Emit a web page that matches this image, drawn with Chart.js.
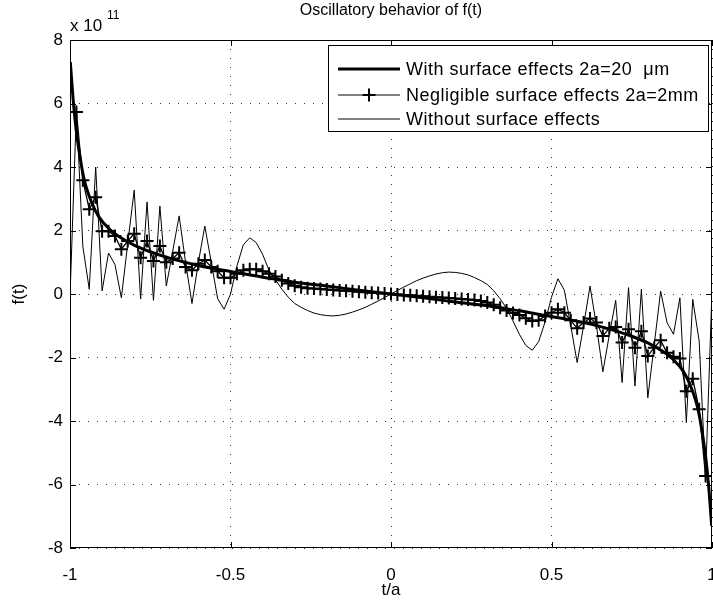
<!DOCTYPE html>
<html>
<head>
<meta charset="utf-8">
<script src="https://cdn.jsdelivr.net/npm/chart.js@4/dist/chart.umd.min.js"></script>
<style>
  html, body { margin: 0; padding: 0; background: #fff; }
  #wrap { width: 713px; height: 602px; }
</style>
</head>
<body>
<div id="wrap"><canvas id="c" width="713" height="602"></canvas></div>
<script>
// f(t) in units of 1e11, plotted against t/a
const xTicks = [-1, -0.5, 0, 0.5, 1];
const yTicks = [-8, -6, -4, -2, 0, 2, 4, 6, 8];

// With surface effects, 2a = 20 um (smooth curve)
const surfaceT = [-0.999, -0.99, -0.98, -0.97, -0.96, -0.95, -0.93, -0.91, -0.88, -0.85, -0.8, -0.75, -0.7, -0.65, -0.6, -0.55, -0.5, -0.45, -0.4, -0.35, -0.3, -0.2, -0.1, 0,
                  0.1, 0.2, 0.3, 0.35, 0.4, 0.45, 0.5, 0.55, 0.6, 0.65, 0.7, 0.75, 0.8, 0.85, 0.88, 0.91, 0.93, 0.95, 0.96, 0.97, 0.98, 0.99, 0.999];
const surfaceF = [7.3, 6.1, 5.1, 4.4, 3.8, 3.38, 2.82, 2.43, 2.07, 1.83, 1.54, 1.33, 1.16, 1.02, 0.9, 0.8, 0.71, 0.62, 0.53, 0.45, 0.37, 0.25, 0.12, 0,
                  -0.12, -0.25, -0.37, -0.45, -0.53, -0.62, -0.71, -0.8, -0.9, -1.02, -1.16, -1.33, -1.54, -1.83, -2.07, -2.43, -2.82, -3.38, -3.8, -4.4, -5.1, -6.1, -7.3];

// Sample points shared by the two discrete solutions
const gridT = [-0.98, -0.96, -0.94, -0.92, -0.9, -0.88, -0.86, -0.84, -0.82, -0.8, -0.78, -0.76, -0.74, -0.72, -0.7, -0.68, -0.66, -0.64, -0.62, -0.6,
               -0.58, -0.56, -0.54, -0.52, -0.5, -0.48, -0.46, -0.44, -0.42, -0.4, -0.38, -0.36, -0.34, -0.32, -0.3, -0.28, -0.26, -0.24, -0.22, -0.2,
               -0.18, -0.16, -0.14, -0.12, -0.1, -0.08, -0.06, -0.04, -0.02, 0,
               0.02, 0.04, 0.06, 0.08, 0.1, 0.12, 0.14, 0.16, 0.18, 0.2, 0.22, 0.24, 0.26, 0.28, 0.3, 0.32, 0.34, 0.36, 0.38, 0.4,
               0.42, 0.44, 0.46, 0.48, 0.5, 0.52, 0.54, 0.56, 0.58, 0.6, 0.62, 0.64, 0.66, 0.68, 0.7, 0.72, 0.74, 0.76, 0.78, 0.8,
               0.82, 0.84, 0.86, 0.88, 0.9, 0.92, 0.94, 0.96, 0.98];

// Negligible surface effects, 2a = 2 mm
const negligibleF = [5.73, 3.58, 2.67, 3.05, 1.98, 1.98, 1.83, 1.41, 1.67, 1.9, 1.14, 1.67, 1.04, 1.51, 1.0, 1.12, 1.3, 0.85, 0.75, 0.95,
                     1.07, 0.85, 0.72, 0.51, 0.51, 0.64, 0.75, 0.78, 0.78, 0.72, 0.64, 0.55, 0.43, 0.33, 0.26, 0.21, 0.18, 0.17, 0.155, 0.14,
                     0.125, 0.11, 0.1, 0.085, 0.07, 0.055, 0.04, 0.03, 0.015, 0,
                     -0.015, -0.03, -0.04, -0.055, -0.07, -0.085, -0.1, -0.11, -0.125, -0.14, -0.155, -0.17, -0.19, -0.22, -0.27, -0.34, -0.43, -0.52, -0.6, -0.66,
                     -0.76, -0.85, -0.83, -0.69, -0.59, -0.48, -0.59, -0.83, -1.08, -0.9, -0.77, -0.9, -1.32, -1.08, -1.04, -1.53, -1.11, -1.69, -1.17, -1.95,
                     -1.69, -1.46, -1.85, -1.98, -2.03, -3.06, -2.67, -3.63, -5.73];

// Without surface effects (classical solution), includes both end points
const classicT = [-1].concat(gridT, [1]);
const classicF = [-0.1,
                  5.8, 1.5, 0.15, 4.0, 0.1, 1.29, 0.93, -0.12, 1.6, 3.27, -0.16, 2.9, -0.2, 2.77, 0.25, 1.35, 2.46, 1.0, -0.3, 1.0,
                  2.14, 1.0, -0.15, -0.48, 0.0, 0.88, 1.55, 1.77, 1.62, 1.25, 0.75, 0.45, 0.15, -0.1, -0.3, -0.42, -0.52, -0.6, -0.65, -0.68,
                  -0.69, -0.67, -0.63, -0.57, -0.5, -0.42, -0.32, -0.22, -0.11, 0,
                  0.11, 0.22, 0.32, 0.42, 0.5, 0.57, 0.63, 0.67, 0.69, 0.68, 0.65, 0.6, 0.52, 0.42, 0.3, 0.1, -0.15, -0.45, -0.85, -1.27,
                  -1.62, -1.77, -1.5, -0.88, -0.1, 0.48, 0.12, -1.0, -2.16, -1.0, 0.25, -1.0, -2.45, -1.3, -0.2, -2.79, 0.2, -2.9, 0.15, -3.27,
                  -1.6, 0.09, -0.9, -1.27, -0.12, -4.05, -0.17, -1.48, -5.8,
                  0.1];

const seriesNames = ['With surface effects 2a=20  \u03bcm', 'Negligible surface effects 2a=2mm', 'Without surface effects'];

const pts = (ts, vs) => ts.map((t, i) => ({ x: t, y: vs[i] }));
const FONT = '"Liberation Sans", Arial, Helvetica, sans-serif';

// Axes box, inward tick marks, title, exponent label and legend
const decor = {
  id: 'decor',
  afterDraw(chart) {
    const { ctx, chartArea: a, scales: { x, y } } = chart;
    ctx.save();
    ctx.strokeStyle = '#000';
    ctx.lineWidth = 1;
    ctx.strokeRect(a.left + 0.5, a.top + 0.5, a.right - a.left - 1, a.bottom - a.top - 1);
    ctx.beginPath();
    xTicks.forEach(v => {
      const px = Math.round(x.getPixelForValue(v)) + 0.5;
      ctx.moveTo(px, a.bottom); ctx.lineTo(px, a.bottom - 6);
      ctx.moveTo(px, a.top); ctx.lineTo(px, a.top + 6);
    });
    yTicks.forEach(v => {
      const py = Math.round(y.getPixelForValue(v)) + 0.5;
      ctx.moveTo(a.left, py); ctx.lineTo(a.left + 6, py);
      ctx.moveTo(a.right, py); ctx.lineTo(a.right - 6, py);
    });
    ctx.stroke();

    ctx.fillStyle = '#000';
    ctx.textBaseline = 'middle';
    ctx.textAlign = 'center';
    ctx.font = '16px ' + FONT;
    ctx.fillText('Oscillatory behavior of f(t)', (a.left + a.right) / 2, 11);
    ctx.font = '17px ' + FONT;
    ctx.fillText('t/a', (a.left + a.right) / 2, 590);
    ctx.save();
    ctx.translate(19, (a.top + a.bottom) / 2);
    ctx.rotate(-Math.PI / 2);
    ctx.fillText('f(t)', 0, 0);
    ctx.restore();

    ctx.textAlign = 'left';
    ctx.font = '17px ' + FONT;
    ctx.fillText('x 10', 70, 26);
    ctx.font = '12px ' + FONT;
    ctx.fillText('11', 107, 16);

    // legend
    const L = 328, T = 45, R = 708, B = 131;
    ctx.fillStyle = '#fff';
    ctx.fillRect(L, T, R - L, B - T);
    ctx.strokeStyle = '#000';
    ctx.lineWidth = 1;
    ctx.strokeRect(L + 0.5, T + 0.5, R - L, B - T);
    const rows = [69, 95, 119];
    const widths = [3, 1.2, 1];
    ctx.font = '18px ' + FONT;
    if ('letterSpacing' in ctx) ctx.letterSpacing = '0.5px';
    ctx.fillStyle = '#000';
    rows.forEach((ry, i) => {
      ctx.beginPath();
      ctx.lineWidth = widths[i];
      ctx.moveTo(338, ry); ctx.lineTo(400, ry);
      ctx.stroke();
      if (i === 1) {
        ctx.beginPath();
        ctx.lineWidth = 2;
        ctx.moveTo(362.5, ry); ctx.lineTo(375.5, ry);
        ctx.moveTo(369, ry - 6.5); ctx.lineTo(369, ry + 6.5);
        ctx.stroke();
      }
      ctx.fillText(seriesNames[i], 406, ry + 1);
    });
    ctx.restore();
  }
};

new Chart(document.getElementById('c'), {
  type: 'line',
  data: {
    datasets: [
      { label: seriesNames[0], data: pts(surfaceT, surfaceF), borderColor: '#000', borderWidth: 3,
        pointRadius: 0, cubicInterpolationMode: 'monotone', fill: false },
      { label: seriesNames[1], data: pts(gridT, negligibleF), borderColor: '#000', borderWidth: 1.3,
        pointStyle: 'cross', pointRadius: 6.5, pointBorderWidth: 2, pointBorderColor: '#000', tension: 0, fill: false },
      { label: seriesNames[2], data: pts(classicT, classicF), borderColor: '#000', borderWidth: 1,
        pointRadius: 0, tension: 0, fill: false }
    ]
  },
  options: {
    responsive: false,
    animation: false,
    devicePixelRatio: 1,
    events: [],
    layout: { autoPadding: false, padding: { left: 0, right: 1, top: 40, bottom: 0 } },
    plugins: { legend: { display: false }, tooltip: { enabled: false }, title: { display: false } },
    scales: {
      x: {
        type: 'linear', min: -1, max: 1,
        afterBuildTicks: s => { s.ticks = xTicks.map(v => ({ value: v })); },
        afterFit: s => { s.height = 54; s.paddingLeft = 0; s.paddingRight = 0; },
        ticks: { color: '#000', font: { family: FONT, size: 17 }, padding: 17, maxRotation: 0,
                 callback: v => String(v) },
        grid: { color: '#333', lineWidth: 1, drawTicks: false },
        border: { display: false, dash: [1, 8] }
      },
      y: {
        type: 'linear', min: -8, max: 8,
        afterBuildTicks: s => { s.ticks = yTicks.map(v => ({ value: v })); },
        afterFit: s => { s.width = 70; s.paddingTop = 0; s.paddingBottom = 0; },
        ticks: { color: '#000', font: { family: FONT, size: 17 }, padding: 7,
                 callback: v => String(v) },
        grid: { color: '#333', lineWidth: 1, drawTicks: false },
        border: { display: false, dash: [1, 8] }
      }
    }
  },
  plugins: [decor]
});
</script>
</body>
</html>
